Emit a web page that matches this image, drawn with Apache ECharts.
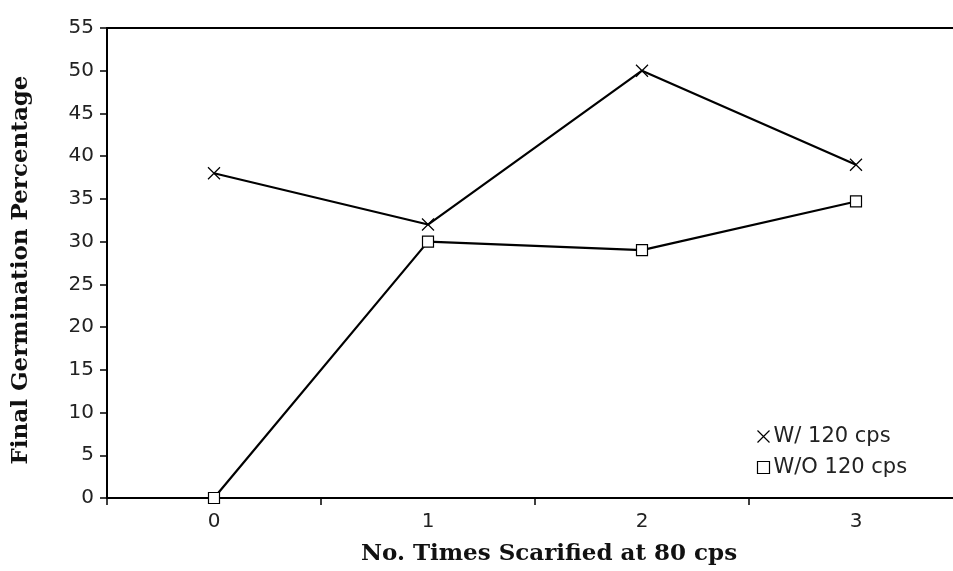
<!DOCTYPE html>
<html>
<head>
<meta charset="utf-8">
<script src="https://cdn.jsdelivr.net/npm/echarts@6/dist/echarts.min.js"></script>
<style>
  html, body { margin: 0; padding: 0; background: #fff; }
  #chart { width: 953px; height: 571px; }
</style>
</head>
<body>
<div id="chart"></div>
<script>
const categories = ['0', '1', '2', '3']
const withCps = [38, 32, 50, 39]
const withoutCps = [0, 30, 29, 34.7]

const crossSymbol = 'path://M0,0L10,10M10,0L0,10'
const labelFont = { fontFamily: 'DejaVu Sans', fontSize: 20, color: '#222' }
const titleFont = { fontFamily: 'DejaVu Serif', fontWeight: 'bold', fontSize: 23, color: '#111' }

const chart = echarts.init(document.getElementById('chart'))
const option = {
  animation: false,
  backgroundColor: '#fff',
  grid: { left: 107, width: 856, top: 28, bottom: 73, containLabel: false, outerBoundsMode: 'none' },
  legend: {
    left: 750,
    top: 421,
    orient: 'vertical',
    itemGap: 10,
    itemWidth: 12,
    itemHeight: 12,
    textStyle: { ...labelFont, fontSize: 21, padding: [0, 0, 0, -1] },
    data: [
      { name: 'W/ 120 cps', icon: crossSymbol, itemStyle: { color: 'none', borderColor: '#000', borderWidth: 1.2 } },
      { name: 'W/O 120 cps', icon: 'rect', itemStyle: { color: '#fff', borderColor: '#000', borderWidth: 1.2 } }
    ]
  },
  xAxis: [
    {
      type: 'category',
      data: categories,
      boundaryGap: true,
      name: 'No. Times Scarified at 80 cps',
      nameLocation: 'middle',
      nameGap: 45,
      nameTextStyle: { ...titleFont, padding: [0, 0, 0, 28] },
      axisLine: { lineStyle: { color: '#000', width: 2 } },
      axisTick: { show: true, length: 7, lineStyle: { color: '#000', width: 1.5 } },
      axisLabel: { ...labelFont, margin: 14 },
      splitLine: { show: false }
    },
    {
      type: 'category',
      data: categories,
      position: 'top',
      axisLine: { lineStyle: { color: '#000', width: 2 } },
      axisTick: { show: false },
      axisLabel: { show: false }
    }
  ],
  yAxis: {
    type: 'value',
    min: 0,
    max: 55,
    interval: 5,
    name: 'Final Germination Percentage',
    nameLocation: 'middle',
    nameGap: 74,
    nameTextStyle: { ...titleFont, padding: [0, 14, 0, 0] },
    axisLine: { show: true, lineStyle: { color: '#000', width: 2 } },
    axisTick: { show: true, length: 7, lineStyle: { color: '#000', width: 1.5 } },
    axisLabel: { ...labelFont, margin: 13 },
    splitLine: { show: false }
  },
  series: [
    {
      name: 'W/ 120 cps',
      type: 'line',
      data: withCps,
      symbol: crossSymbol,
      symbolSize: 12,
      lineStyle: { color: '#000', width: 2.2 },
      itemStyle: { color: 'none', borderColor: '#000', borderWidth: 1.2 },
      emphasis: { disabled: true }
    },
    {
      name: 'W/O 120 cps',
      type: 'line',
      data: withoutCps,
      symbol: 'rect',
      symbolSize: 11,
      lineStyle: { color: '#000', width: 2.2 },
      itemStyle: { color: '#fff', borderColor: '#000', borderWidth: 1.2 },
      emphasis: { disabled: true }
    }
  ]
}
chart.setOption(option)
</script>
</body>
</html>
